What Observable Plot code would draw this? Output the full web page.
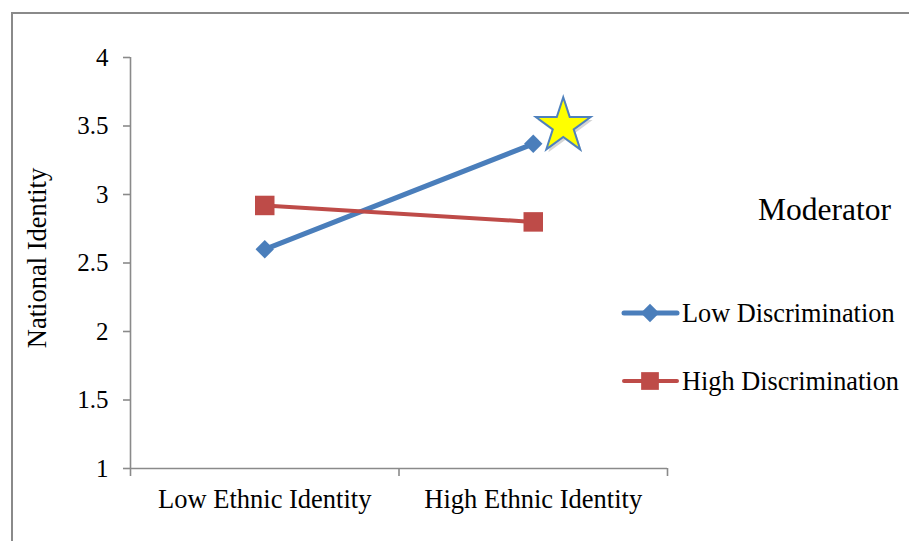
<!DOCTYPE html>
<html>
<head>
<meta charset="utf-8">
<script src="https://cdn.jsdelivr.net/npm/d3@7"></script>
<script src="https://cdn.jsdelivr.net/npm/@observablehq/plot@0.6"></script>
<style>
  html, body { margin: 0; padding: 0; background: #fff; }
  #chart { position: relative; width: 909px; height: 541px; }
</style>
</head>
<body>
<div id="chart"></div>
<script>
// ---- data ----
const categories = ["Low Ethnic Identity", "High Ethnic Identity"];
const seriesNames = ["Low Discrimination", "High Discrimination"];
const lowDiscrimination = [2.60, 3.37];
const highDiscrimination = [2.92, 2.80];
const yTicks = [1, 1.5, 2, 2.5, 3, 3.5, 4];
const yLabel = "National Identity";
const legendTitle = "Moderator";
const starValue = 3.5; // highlight next to Low Discrimination / High Ethnic Identity

const colors = ["#4A7EBB", "#BE4B48"];
const font = "'Liberation Serif', 'Times New Roman', serif";

const rowsFor = (vals, s) => vals.map((v, i) => ({cat: categories[i], idx: i + 0.5, series: s, value: v}));
const lowRows = rowsFor(lowDiscrimination, seriesNames[0]);
const highRows = rowsFor(highDiscrimination, seriesNames[1]);

const boundaries = d3.range(categories.length + 1);
const centers = categories.map((c, i) => i + 0.5);

const plot = Plot.plot({
  width: 909,
  height: 541,
  marginLeft: 130,
  marginRight: 242,
  marginTop: 57,
  marginBottom: 73,
  style: {fontFamily: font, background: "#fff", overflow: "visible"},
  x: {type: "linear", domain: [0, categories.length], axis: null},
  y: {domain: [1, 4], axis: null},
  marks: [
    // y axis tick marks
    Plot.axisY({ticks: yTicks, tickSize: 7, stroke: "#8a8a8a", strokeWidth: 1.6, tickFormat: () => "", label: null}),
    // y axis tick labels (serif)
    Plot.text(yTicks, {frameAnchor: "left", y: d => d, dx: -22, text: d => String(d), textAnchor: "end",
      lineAnchor: "middle", fontSize: 25, fontFamily: font, fill: "#000"}),
    // x axis boundary ticks
    Plot.axisX({ticks: boundaries, tickSize: 8, stroke: "#8a8a8a", strokeWidth: 1.6, tickFormat: () => "", label: null}),
    // x axis category labels
    Plot.axisX({ticks: centers, tickSize: 0, tickPadding: 21, fill: "#000", fontSize: 26.5, fontFamily: font,
      tickFormat: d => categories[Math.round(d - 0.5)], label: null}),
    // axis lines
    Plot.ruleX([0], {stroke: "#8a8a8a", strokeWidth: 1.6}),
    Plot.ruleY([1], {stroke: "#8a8a8a", strokeWidth: 1.6}),
    // y label
    Plot.text([yLabel], {frameAnchor: "left", dx: -93, dy: -5, rotate: -90, text: d => d, fontSize: 26.5,
      fontFamily: font, fill: "#000", textAnchor: "middle", lineAnchor: "middle"}),
    // series lines
    Plot.line(lowRows, {x: "idx", y: "value", stroke: colors[0], strokeWidth: 5}),
    Plot.dot(lowRows, {x: "idx", y: "value", symbol: "diamond2", r: 8.3, fill: colors[0], stroke: null}),
    Plot.line(highRows, {x: "idx", y: "value", stroke: colors[1], strokeWidth: 4}),
    Plot.dot(highRows, {x: "idx", y: "value", symbol: "square", r: 11, fill: colors[1], stroke: null}),
    // star highlight (shadow + star)
    Plot.dot([starValue], {x: centers[1], y: d => d, dx: 32, dy: 3, symbol: "star", r: 17.2,
      fill: "#888", fillOpacity: 0.35, stroke: null}),
    Plot.dot([starValue], {x: centers[1], y: d => d, dx: 30, symbol: "star", r: 17.2,
      fill: "#FFFF00", stroke: "#4F81BD", strokeWidth: 2})
  ]
});

document.getElementById("chart").appendChild(plot);

// outer chart-area border and legend drawn on the same SVG
const svg = d3.select(plot);
svg.append("path").attr("d", "M12,541V13H909").attr("fill", "none").attr("stroke", "#8a8a8a").attr("stroke-width", 2);

const leg = svg.append("g").attr("font-family", font).attr("text-anchor", "start");
leg.append("text").attr("x", 758).attr("y", 220).attr("font-size", 31.5).attr("fill", "#000").text(legendTitle);
const legY = [313, 381];
seriesNames.forEach((name, i) => {
  const g = leg.append("g");
  g.append("line").attr("x1", 624).attr("x2", 677).attr("y1", legY[i]).attr("y2", legY[i])
    .attr("stroke", colors[i]).attr("stroke-width", i === 0 ? 5 : 4).attr("stroke-linecap", "round");
  if (i === 0) {
    g.append("path").attr("d", d3.symbol(d3.symbolDiamond2, Math.PI * 8.3 * 8.3)())
      .attr("transform", `translate(650,${legY[i]})`).attr("fill", colors[i]);
  } else {
    g.append("path").attr("d", d3.symbol(d3.symbolSquare, Math.PI * 10 * 10)())
      .attr("transform", `translate(650,${legY[i]})`).attr("fill", colors[i]);
  }
  g.append("text").attr("x", 682).attr("y", legY[i] + 9).attr("font-size", 26.3).attr("fill", "#000").text(name);
});
</script>
</body>
</html>
